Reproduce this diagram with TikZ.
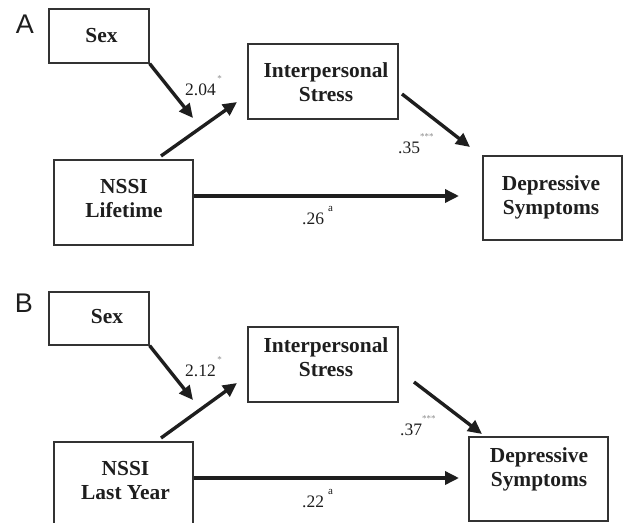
\documentclass[tikz,border=0pt]{standalone}
\usepackage{fontspec}
\setmainfont{Liberation Serif}
\newfontfamily\panelfont{Liberation Sans}
\usetikzlibrary{arrows.meta}
\definecolor{ink}{HTML}{1E1E1E}
\definecolor{boxline}{HTML}{333333}
\definecolor{starc}{HTML}{8A8A8A}
\newcommand{\supmark}[2]{\rlap{\hspace{#1}\raisebox{#2}{\color{starc}\fontsize{9}{9}\selectfont *}}}
\newcommand{\supa}{\rlap{\hspace{4pt}\raisebox{13pt}{\color{ink}\fontsize{11}{11}\selectfont a}}}
\begin{document}
\begin{tikzpicture}[x=1pt,y=-1pt,
  box/.style={draw=boxline, line width=1.3pt, inner sep=0pt},
  lbl/.style={font=\fontsize{21.4}{24}\selectfont\bfseries, text=ink, align=center, inner sep=0pt},
  coef/.style={font=\fontsize{17.5}{20}\selectfont, text=ink, anchor=base west, inner sep=0pt},
  panel/.style={font=\fontsize{27}{27}\selectfont\panelfont, text=ink, inner sep=0pt},
  arr/.style={line width=3.4pt, draw=ink, -{Triangle[length=14pt,width=13pt]}},
]
\useasboundingbox (0,0) rectangle (626,522);
\clip (0,0) rectangle (626,522);

% ---------------- Panel A ----------------
\node[panel] (pA) at (25,24) {A};
\node[box, minimum width=100pt, minimum height=54pt] (sexA) at (99,36) {};
\node[lbl] (sexAt) at (101.5,36) {Sex};
\node[box, minimum width=150pt, minimum height=75pt] (isA) at (323,81.5) {};
\node[lbl] (isAt) at (326,82) {Interpersonal\\Stress};
\node[box, minimum width=139pt, minimum height=85pt] (nssiA) at (123.5,202.5) {};
\node[lbl] (nssiAt) at (124,199) {NSSI\\Lifetime};
\node[box, minimum width=139pt, minimum height=84pt] (dsA) at (552.5,198) {};
\node[lbl] (dsAt) at (551,197) {Depressive\\Symptoms};

\coordinate (mA) at (193,118);
\coordinate (nA0) at (161,156);
\coordinate (nA1) at (237,102);
\coordinate (iA0) at (402,94);
\coordinate (iA1) at (470,147);
\coordinate (hA1) at (459,196);

\draw[arr] (sexA.south east) -- (mA);
\draw[arr] (nA0) -- (nA1);
\draw[arr] (iA0) -- (iA1);
\draw[arr] (nssiA.east |- hA1) -- (hA1);

\node[coef] (cA1) at (185,95) {2.04\supmark{1.5pt}{14pt}};
\node[coef] (cA2) at (398,153) {.35\supmark{0pt}{14pt}\supmark{4.5pt}{14pt}\supmark{9pt}{14pt}};
\node[coef] (cA3) at (302,224) {.26\supa};

% ---------------- Panel B ----------------
\node[panel] (pB) at (24,303) {B};
\node[box, minimum width=100pt, minimum height=53pt] (sexB) at (99,318.5) {};
\node[lbl] (sexBt) at (107,316.5) {Sex};
\node[box, minimum width=150pt, minimum height=75pt] (isB) at (323,364.5) {};
\node[lbl] (isBt) at (326,357) {Interpersonal\\Stress};
\node[box, minimum width=139pt, minimum height=110pt] (nssiB) at (123.5,497) {};
\node[lbl] (nssiBt) at (125.5,481) {NSSI\\Last Year};
\node[box, minimum width=139pt, minimum height=84pt] (dsB) at (538.5,479) {};
\node[lbl] (dsBt) at (539,469) {Depressive\\Symptoms};

\coordinate (mB) at (193,400);
\coordinate (nB0) at (161,438);
\coordinate (nB1) at (237,383);
\coordinate (iB0) at (414,382);
\coordinate (iB1) at (482,434);
\coordinate (hB1) at (459,478);

\draw[arr] (sexB.south east) -- (mB);
\draw[arr] (nB0) -- (nB1);
\draw[arr] (iB0) -- (iB1);
\draw[arr] (nssiB.east |- hB1) -- (hB1);

\node[coef] (cB1) at (185,376) {2.12\supmark{1.5pt}{14pt}};
\node[coef] (cB2) at (400,435) {.37\supmark{0pt}{14pt}\supmark{4.5pt}{14pt}\supmark{9pt}{14pt}};
\node[coef] (cB3) at (302,507) {.22\supa};
\end{tikzpicture}
\end{document}
